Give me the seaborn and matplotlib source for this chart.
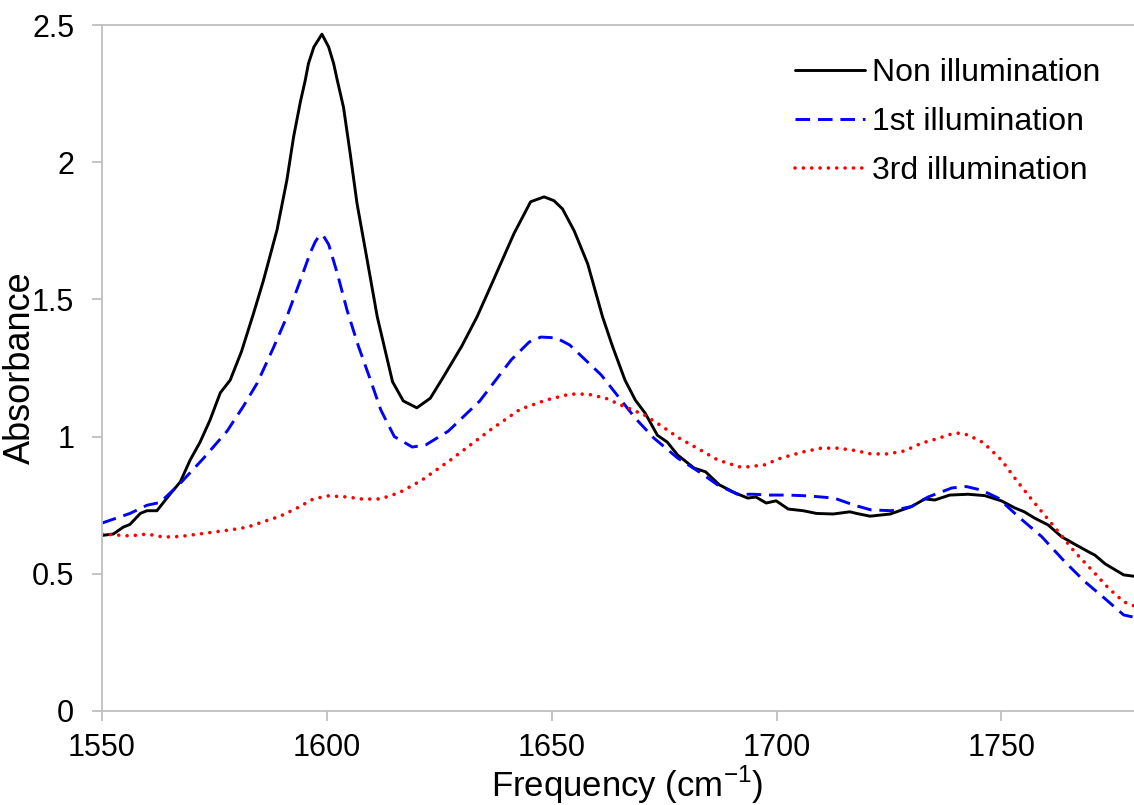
import matplotlib
matplotlib.use("Agg")
import matplotlib.pyplot as plt
import seaborn as sns
import pandas as pd
from matplotlib.ticker import FuncFormatter

# ---------------- data ----------------
non_x = [1550, 1552.5, 1554.7, 1556.2, 1558.5, 1560, 1562.2, 1565.1, 1567.4, 1569.6, 1571.8, 1574,
         1576.3, 1578.5, 1581, 1583.7, 1585.9, 1588.9, 1591.1, 1592.6, 1594.1, 1595.2, 1595.9, 1597.1,
         1598.9, 1600.4, 1601.5, 1602.3, 1603.7, 1605.2, 1606.7, 1609, 1611.2, 1614.6, 1617, 1620,
         1623, 1626, 1630, 1633.4, 1636.4, 1641.6, 1645.3, 1648.3, 1650.5, 1652.4, 1655, 1658,
         1661.3, 1663.5, 1666.3, 1668.6, 1670.8, 1673.5, 1675.7, 1678, 1681.7, 1684.2, 1687.3,
         1690.9, 1693.6, 1695.4, 1697.7, 1699.9, 1702.6, 1705.9, 1708.9, 1712.6, 1716.3, 1717.8,
         1720.8, 1725.3, 1730, 1733, 1735.2, 1738.5, 1742.6, 1746.3, 1750, 1753, 1755.1, 1757.4,
         1760.4, 1763.4, 1766.3, 1769.4, 1770.8, 1773.1, 1777.2, 1780]
non_y = [0.64, 0.645, 0.67, 0.68, 0.72, 0.73, 0.73, 0.79, 0.835, 0.915, 0.98, 1.06,
         1.16, 1.206, 1.31, 1.45, 1.57, 1.753, 1.935, 2.093, 2.22, 2.30, 2.36, 2.42,
         2.467, 2.42, 2.36, 2.30, 2.20, 2.03, 1.85, 1.64, 1.437, 1.2, 1.13, 1.105,
         1.14, 1.22, 1.33, 1.437, 1.547, 1.74, 1.856, 1.874, 1.86, 1.83, 1.75, 1.63,
         1.437, 1.33, 1.206, 1.133, 1.085, 1.005, 0.98, 0.933, 0.885, 0.872, 0.824,
         0.794, 0.776, 0.78, 0.758, 0.766, 0.736, 0.73, 0.72, 0.718, 0.726, 0.72,
         0.71, 0.718, 0.745, 0.773, 0.769, 0.787, 0.79, 0.785, 0.766, 0.74, 0.726, 0.703,
         0.678, 0.635, 0.608, 0.58, 0.568, 0.536, 0.496, 0.49]

first_x = [1550, 1556.2, 1560, 1562.9, 1567.4, 1572.5, 1577.8, 1581.4, 1584.5, 1588, 1591.1, 1594.1,
           1596.3, 1597.4, 1598.4, 1599.3, 1600.4, 1602.3, 1604.5, 1607, 1609.7, 1612, 1615, 1619,
           1622, 1627, 1634, 1641, 1645, 1647.6, 1651, 1654, 1661, 1668.6, 1672.7, 1678, 1683.2,
           1686.9, 1691.3, 1695, 1698, 1702.5, 1707, 1712.8, 1717.3, 1721, 1725.5, 1730, 1733.7,
           1739, 1742.2, 1745.6, 1749.3, 1753.8, 1759, 1764.1, 1768.6, 1773, 1777.2, 1780]
first_y = [0.685, 0.72, 0.75, 0.76, 0.83, 0.92, 1.02, 1.11, 1.195, 1.32, 1.437, 1.57,
           1.67, 1.71, 1.735, 1.73, 1.70, 1.596, 1.46, 1.33, 1.206, 1.097, 1.0, 0.962,
           0.97, 1.02, 1.13, 1.28, 1.345, 1.363, 1.36, 1.334, 1.225, 1.067, 0.995, 0.922, 0.867,
           0.824, 0.79, 0.79, 0.787, 0.787, 0.784, 0.776, 0.75, 0.733, 0.73, 0.745, 0.78,
           0.813, 0.818, 0.805, 0.776, 0.708, 0.635, 0.544, 0.471, 0.41, 0.35, 0.34]

third_x = [1550, 1556.2, 1560, 1563.6, 1567.4, 1573.4, 1578.5, 1582.3, 1585.9, 1589.6, 1593.4, 1597,
           1600.3, 1604.6, 1608.1, 1611.9, 1616, 1621, 1627.5, 1636.4, 1643, 1648.7, 1654, 1658,
           1662, 1665.4, 1670.5, 1674.3, 1678.3, 1683.2, 1686.9, 1691.7, 1693.6, 1697.3, 1701, 1706.1,
           1709.9, 1713.6, 1717.3, 1721, 1724.7, 1728.5, 1732.2, 1735.2, 1739, 1740.7, 1742.6, 1746,
           1750, 1753.3, 1756.3, 1759.3, 1763, 1766.3, 1770.1, 1773.8, 1777.2, 1780]
third_y = [0.645, 0.638, 0.645, 0.634, 0.636, 0.649, 0.66, 0.67, 0.69, 0.71, 0.74, 0.773,
           0.784, 0.78, 0.772, 0.773, 0.795, 0.84, 0.915, 1.025, 1.1, 1.133, 1.155, 1.155,
           1.14, 1.115, 1.08, 1.04, 0.995, 0.95, 0.915, 0.89, 0.89, 0.897, 0.922, 0.945,
           0.958, 0.958, 0.95, 0.937, 0.937, 0.948, 0.976, 0.99, 1.01, 1.013, 1.006, 0.978,
           0.915, 0.842, 0.78, 0.72, 0.647, 0.58, 0.514, 0.448, 0.398, 0.38]

series_names = ["Non illumination", "1st illumination", "3rd illumination"]
x_ticks = [1550, 1600, 1650, 1700, 1750]
y_ticks = [0, 0.5, 1, 1.5, 2, 2.5]

# ---------------- plot ----------------
sns.set_style("white")
plt.rcParams["font.family"] = ["Liberation Sans", "DejaVu Sans"]
plt.rcParams.update({"text.color": "black", "axes.labelcolor": "black",
                     "xtick.color": "black", "ytick.color": "black"})

fig = plt.figure(figsize=(11.34, 8.05), dpi=100)
ax = fig.add_axes([0.09, 0.1168, 0.912, 0.852])

frames = [
    pd.DataFrame({"x": non_x, "y": non_y, "s": series_names[0]}),
    pd.DataFrame({"x": first_x, "y": first_y, "s": series_names[1]}),
    pd.DataFrame({"x": third_x, "y": third_y, "s": series_names[2]}),
]
styles = [
    dict(color="black", lw=2.1, ls="-", cap="butt"),
    dict(color="#0000FF", lw=2.1, ls=(0, (5.0, 2.7)), cap="butt"),
    dict(color="#FF0000", lw=2.6, ls=(0, (0.01, 2.3)), cap="round"),
]
for df, st in zip(frames, styles):
    sns.lineplot(data=df, x="x", y="y", ax=ax, color=st["color"], linewidth=st["lw"],
                 linestyle=st["ls"], label=df["s"].iloc[0], sort=False, estimator=None,
                 dash_capstyle=st["cap"], solid_joinstyle="round")

ax.set_xlim(1550, 1780)
ax.set_ylim(0, 2.5)
ax.set_xticks(x_ticks)
ax.set_yticks(y_ticks)
ax.yaxis.set_major_formatter(FuncFormatter(lambda v, p: f"{v:g}"))

gray = "#BFBFBF"
for side in ["left", "bottom", "top"]:
    ax.spines[side].set_visible(True)
    ax.spines[side].set_color(gray)
    ax.spines[side].set_linewidth(1.3)
ax.spines["right"].set_visible(False)

ax.tick_params(axis="both", which="major", direction="out", length=7, width=1.3,
               color=gray, labelsize=22, labelcolor="black")
ax.tick_params(axis="y", pad=13, left=True)
ax.tick_params(axis="x", pad=9, bottom=True)

ax.set_xlabel("Frequency (cm$^{\\mathregular{-1}}$)", fontsize=25)
ax.set_ylabel("Absorbance", fontsize=26)
ax.xaxis.set_label_coords(0.508, -0.077)
ax.yaxis.set_label_coords(-0.062, 0.5)

leg = ax.legend(loc="upper right", frameon=False, fontsize=23, handlelength=2.2,
                handletextpad=0.22, labelspacing=0.6, bbox_to_anchor=(0.993, 0.994))

fig.savefig("out.png", dpi=100, facecolor="white")
